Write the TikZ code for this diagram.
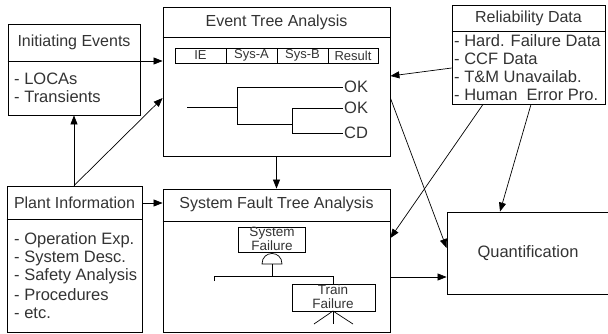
\documentclass[tikz,border=0pt]{standalone}
\usepackage{fontspec}
\setmainfont{Liberation Sans}
\usetikzlibrary{arrows.meta}
\definecolor{txt}{HTML}{333333}
\tikzset{
  box/.style={draw, line width=0.8pt, inner sep=0pt},
  ttl/.style={text=txt, font=\fontsize{16}{19}\selectfont, inner sep=0pt},
  itm/.style={text=txt, font=\fontsize{16.5}{19}\selectfont, inner sep=0pt, anchor=west},
  cell/.style={draw, line width=0.7pt, inner sep=0pt, minimum height=15pt, text=txt, font=\fontsize{13}{14}\selectfont},
  small/.style={text=txt, font=\fontsize{13.5}{15}\selectfont, inner sep=0pt, align=center},
  arr/.style={line width=0.7pt, -{Triangle[length=9pt,width=7pt]}},
  ln/.style={line width=0.7pt}
}
\begin{document}
\begin{tikzpicture}[x=1pt,y=-1pt]
\useasboundingbox (0,0) rectangle (608,333);
% Initiating Events
\node[box, minimum width=132pt, minimum height=91pt] (ie) at (74,69.5) {};
\draw[ln] (ie.west |- 0,61) -- (ie.east |- 0,61);
\node[ttl] (ieT) at (74,42) {Initiating Events};
\node[itm] (ie1) at (14,79) {- LOCAs};
\node[itm] (ie2) at (14,97) {- Transients};
% Event Tree Analysis
\node[box, minimum width=227pt, minimum height=149pt] (eta) at (276.5,81.5) {};
\draw[ln] (eta.west |- 0,37) -- (eta.east |- 0,37);
\node[ttl] (etaT) at (276.5,22) {Event Tree Analysis};
\node[cell, minimum width=51pt] (c1) at (200.5,55.5) {IE};
\node[cell, minimum width=51pt] (c2) at (251.5,55.5) {Sys-A};
\node[cell, minimum width=51pt] (c3) at (302.5,55.5) {Sys-B};
\node[cell, minimum width=50pt] (c4) at (353,55.5) {Result};
\draw[ln] (187,107) -- (237,107);
\draw[ln] (343,87) -- (237,87) -- (237,124) -- (292,124);
\draw[ln] (343,108) -- (292,108) -- (292,133) -- (343,133);
\node[itm] (o1) at (344,87) {OK};
\node[itm] (o2) at (344,108) {OK};
\node[itm] (o3) at (344,133) {CD};
% Reliability Data
\node[box, minimum width=153pt, minimum height=99pt] (rel) at (528.5,54.5) {};
\draw[ln] (rel.west |- 0,31) -- (rel.east |- 0,31);
\node[ttl] (relT) at (528.5,18) {Reliability Data};
\node[itm] (r1) at (454,41) {- Hard. Failure Data};
\node[itm] (r2) at (454,59) {- CCF Data};
\node[itm] (r3) at (454,77) {- T\&M Unavailab.};
\node[itm] (r4) at (454,95) {- Human\ \ Error Pro.};
% Plant Information
\node[box, minimum width=135pt, minimum height=146pt] (pi) at (74.5,259) {};
\draw[ln] (pi.west |- 0,219) -- (pi.east |- 0,219);
\node[ttl] (piT) at (74.5,203) {Plant Information};
\node[itm] (p1) at (14,240) {- Operation Exp.};
\node[itm] (p2) at (14,258) {- System Desc.};
\node[itm] (p3) at (14,276.5) {- Safety Analysis};
\node[itm] (p4) at (14,295) {- Procedures};
\node[itm] (p5) at (14,313.5) {- etc.};
% System Fault Tree Analysis
\node[box, minimum width=227pt, minimum height=143pt] (sfta) at (276.5,260.5) {};
\draw[ln] (sfta.west |- 0,221) -- (sfta.east |- 0,221);
\node[ttl] (sftaT) at (276.5,204.5) {System Fault Tree Analysis};
\node[box, line width=0.7pt, minimum width=67pt, minimum height=25pt] (sf) at (271.5,239.5) {};
\node[small] (sfL) at (272,239) {System\\[-1.5pt]Failure};
\draw[ln] (262,264) .. controls (262,250) and (282,250) .. (282,264) -- cycle;
\draw[ln] (272,264) -- (272,276);
\draw[ln] (214,281) -- (214,276) -- (333,276) -- (333,284);
\node[box, line width=0.7pt, minimum width=83pt, minimum height=27pt] (tf) at (333.5,297.5) {};
\node[small] (tfL) at (333,296.5) {Train\\[-1.5pt]Failure};
\draw[ln] (333,311) -- (333,324);
\draw[ln] (314,324) -- (333,311) -- (353,324);
% Quantification
\node[box, minimum width=193pt, minimum height=82pt] (q) at (543.5,253) {};
\node[ttl, font=\fontsize{16.5}{19}\selectfont] (qT) at (528,253) {Quantification};
% connectors
\draw[arr] (ie.east |- 0,61) -- (eta.west |- 0,61);
\draw[arr] (pi.north -| 74,0) -- (ie.south -| 74,0);
\draw[arr] (pi.north -| 74,0) -- (eta.west |- 0,98);
\draw[arr] (pi.east |- 0,203) -- (sfta.west |- 0,203);
\draw[arr] (eta.south) -- (sfta.north);
\draw[arr] (rel.west |- 0,68) -- (eta.east |- 0,76);
\draw[arr] (rel.south -| 483,0) -- (sfta.east |- 0,238);
\draw[arr] (rel.south -| 531,0) -- (q.north -| 500,0);
\draw[arr] (eta.east |- 0,98) -- (q.west |- 0,248);
\draw[arr] (sfta.east |- 0,277) -- (q.west |- 0,277);
\end{tikzpicture}
\end{document}
